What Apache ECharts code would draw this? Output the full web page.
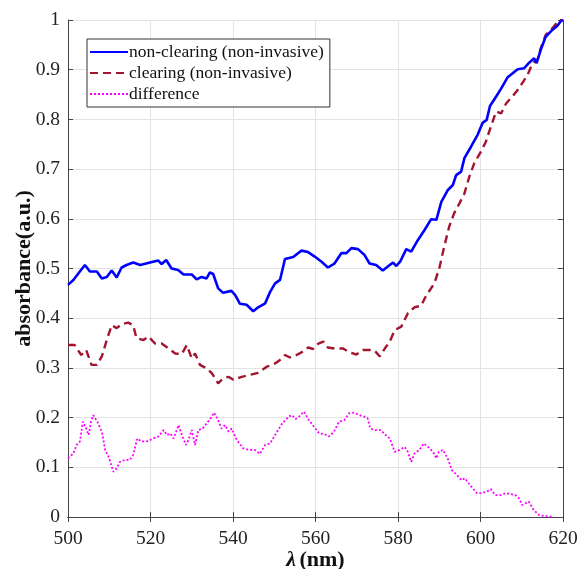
<!DOCTYPE html>
<html><head><meta charset="utf-8">
<script src="https://cdn.jsdelivr.net/npm/echarts@6/dist/echarts.min.js"></script>
<style>html,body{margin:0;padding:0;background:#fff}#c{width:578px;height:569px}</style>
</head><body><div id="c"></div>
<script>
// wavelength (nm) and absorbance values
const wlNonClearing = [500,501.3,502.5,504.1,505.3,507,508.2,509.4,510.6,511.8,513,514.2,515.8,517.5,519.9,521.9,522.7,523.8,525.1,526.7,528,530,531.2,532.4,533.6,534.4,535.2,536.4,537.6,539.6,540.5,541.7,543.3,544.9,546.1,547.8,549,550.2,551.4,552.6,554.6,556.6,558.2,559.8,561.4,563,564.6,566.3,567.5,568.7,570.3,571.9,573.1,574.7,576.3,578,578.8,579.6,580.6,582,583.2,584.8,586.4,588,589.3,590.5,592.1,593.3,594.1,595.3,596.1,597.7,599.3,600.5,601.5,602.3,603.8,605,606.6,607.8,609,610.6,611.8,613,613.6,614.6,615.8,617.4,618.6,619.4,620];
const absNonClearing = [0.467,0.477,0.49,0.507,0.494,0.494,0.48,0.483,0.496,0.482,0.502,0.507,0.512,0.507,0.512,0.516,0.509,0.517,0.5,0.497,0.488,0.488,0.478,0.483,0.48,0.492,0.489,0.46,0.451,0.455,0.447,0.429,0.427,0.414,0.422,0.43,0.453,0.47,0.477,0.519,0.523,0.536,0.533,0.524,0.514,0.502,0.51,0.531,0.531,0.541,0.539,0.527,0.51,0.507,0.496,0.507,0.512,0.505,0.515,0.539,0.534,0.557,0.577,0.599,0.598,0.634,0.658,0.668,0.688,0.695,0.722,0.745,0.769,0.793,0.799,0.827,0.846,0.862,0.885,0.893,0.901,0.903,0.914,0.923,0.913,0.94,0.966,0.98,0.988,0.997,1.0];

const wlClearing = [500,501.6,503.2,504.4,505.7,507,508.2,509.4,510.6,511.8,513,514.6,515.8,516.6,518.3,519.5,521.1,522.7,524.4,526,527.6,528.8,530,530.8,532,533.6,534.9,536.4,537.6,538.9,540.1,542.1,544.1,546.1,548.1,550.2,551.4,552.6,553.8,555.4,557,558.2,559.4,560.7,561.9,563,564.6,566.7,568.3,569.9,571.5,573.1,574.3,575.6,576.8,578,579.2,580.8,582.4,584,585.6,586.8,588.8,590,591.2,592.4,593.6,594.9,596.1,597.3,598.5,600.1,601.3,602.5,603.8,605,606.2,607.8,609,610.2,611.4,612.6,613.8,614.6,615.8,617.4,619,620];
const absClearing = [0.346,0.346,0.326,0.336,0.306,0.306,0.323,0.356,0.386,0.38,0.388,0.391,0.386,0.36,0.356,0.363,0.349,0.349,0.339,0.329,0.328,0.346,0.319,0.329,0.306,0.299,0.289,0.269,0.279,0.282,0.276,0.282,0.286,0.29,0.302,0.309,0.316,0.326,0.321,0.326,0.333,0.341,0.338,0.349,0.353,0.341,0.339,0.339,0.331,0.327,0.336,0.336,0.335,0.323,0.339,0.353,0.376,0.383,0.41,0.422,0.425,0.445,0.47,0.5,0.544,0.584,0.611,0.631,0.651,0.685,0.712,0.735,0.755,0.785,0.816,0.812,0.832,0.847,0.859,0.874,0.889,0.913,0.92,0.943,0.97,0.983,1.0,1.0];

const wlDifference = [500,501.3,502.1,502.9,503.6,504.4,505,505.6,506.1,507.1,508.2,509,510,511,511.8,512.6,513.8,515,515.8,516.8,517.8,519.1,520.7,521.9,523.2,524,524.8,525.6,526.8,527.6,528.6,529.2,530,530.8,531.6,532.6,533.6,534.9,535.4,536.4,537.2,538.1,538.9,539.7,540.9,542.5,544.1,545.3,546.5,547.8,549,550.2,551.9,553.5,554.3,555.2,556,557.2,558.4,559.6,560.9,562.1,563.3,564.5,565.7,567,568.2,569.4,570.6,571.8,572.6,573.3,574.5,575.8,577,578,579.2,580.4,581.6,582.4,583.2,584,585.2,586.2,587.3,588.5,589.3,589.9,590.9,592.2,593,594.2,595.4,596.2,597.5,599.1,600.3,601.5,602.5,603.6,604.8,606.1,607.3,608.5,609.3,610.1,611.7,612.9,614.2,615.4,617.8];
const absDifference = [0.118,0.128,0.145,0.152,0.192,0.178,0.165,0.192,0.205,0.192,0.172,0.135,0.118,0.091,0.098,0.111,0.115,0.115,0.125,0.158,0.152,0.152,0.158,0.162,0.175,0.165,0.168,0.158,0.185,0.165,0.145,0.155,0.175,0.145,0.175,0.178,0.188,0.202,0.21,0.195,0.178,0.185,0.172,0.178,0.155,0.138,0.135,0.135,0.127,0.145,0.148,0.165,0.188,0.202,0.205,0.197,0.202,0.212,0.195,0.182,0.168,0.167,0.162,0.172,0.192,0.195,0.209,0.21,0.205,0.202,0.199,0.178,0.175,0.175,0.165,0.158,0.131,0.135,0.141,0.131,0.111,0.128,0.135,0.148,0.141,0.131,0.118,0.131,0.135,0.115,0.095,0.085,0.074,0.078,0.064,0.048,0.048,0.051,0.056,0.044,0.044,0.048,0.046,0.044,0.038,0.024,0.031,0.014,0.004,0.002,0.0];

const seriesNames = ['non-clearing (non-invasive)','clearing (non-invasive)','difference'];
const xTicks = {min:500,max:620,interval:20};
const yTicks = {min:0,max:1,interval:0.1};

function pairs(xs, ys){ return xs.map((x,i)=>[x, ys[i]]); }

const serif = '"Liberation Serif","DejaVu Serif",serif';
const chart = echarts.init(document.getElementById('c'));
const gridLine = {show:true,lineStyle:{color:'#e3e3e3',width:1}};
const axisLine = {show:true,lineStyle:{color:'#444',width:1}};
const tick = {inside:true,length:5,lineStyle:{color:'#444'}};
chart.setOption({
  animation:false,
  grid:{left:68,right:15,top:20,bottom:52,containLabel:false,outerBoundsMode:'none'},
  legend:{
    orient:'vertical',left:87,top:39,
    data:seriesNames,
    itemWidth:38,itemHeight:10,itemGap:3,
    padding:[4,6,4,2],
    borderColor:'#333',borderWidth:1,backgroundColor:'#fff',
    itemStyle:{opacity:0},
    textStyle:{fontFamily:serif,fontSize:17.5,color:'#111',padding:[0,0,0,-4]}
  },
  xAxis:[{
    type:'value',min:xTicks.min,max:xTicks.max,interval:xTicks.interval,
    axisLine:axisLine,axisTick:tick,
    splitLine:gridLine,
    axisLabel:{fontFamily:serif,fontSize:19.5,color:'#222',margin:12},
    name:'{i|λ} {b|(nm)}',nameLocation:'middle',nameGap:32,nameMoveOverlap:false,
    nameTextStyle:{rich:{i:{fontFamily:serif,fontSize:22,fontStyle:'italic',fontWeight:'bold',color:'#111'},b:{fontFamily:serif,fontSize:22,fontWeight:'bold',color:'#111'}}}
  },{
    type:'value',position:'top',min:xTicks.min,max:xTicks.max,interval:xTicks.interval,
    axisLine:axisLine,axisTick:tick,
    axisLabel:{show:false},splitLine:{show:false}
  }],
  yAxis:[{
    type:'value',min:yTicks.min,max:yTicks.max,interval:yTicks.interval,
    axisLine:axisLine,axisTick:tick,
    splitLine:gridLine,
    axisLabel:{fontFamily:serif,fontSize:19.5,color:'#222',margin:8},
    name:'absorbance(a.u.)',nameLocation:'middle',nameGap:33,nameMoveOverlap:false,
    nameTextStyle:{fontFamily:serif,fontSize:22,fontWeight:'bold',color:'#111'}
  },{
    type:'value',position:'right',min:yTicks.min,max:yTicks.max,interval:yTicks.interval,
    axisLine:axisLine,axisTick:tick,
    axisLabel:{show:false},splitLine:{show:false}
  }],
  series:[
    {name:seriesNames[0],type:'line',data:pairs(wlNonClearing,absNonClearing),showSymbol:false,symbol:'none',
      lineStyle:{color:'#0000ff',width:2.6},itemStyle:{color:'#0000ff'},clip:true,z:3},
    {name:seriesNames[1],type:'line',data:pairs(wlClearing,absClearing),showSymbol:false,symbol:'none',
      lineStyle:{color:'#a2142f',width:2.4,type:[8,5]},itemStyle:{color:'#a2142f'},clip:true,z:2},
    {name:seriesNames[2],type:'line',data:pairs(wlDifference,absDifference),showSymbol:false,symbol:'none',
      lineStyle:{color:'#ff00ff',width:1.8,type:[2,2]},itemStyle:{color:'#ff00ff'},clip:true,z:1}
  ]
});
</script></body></html>
